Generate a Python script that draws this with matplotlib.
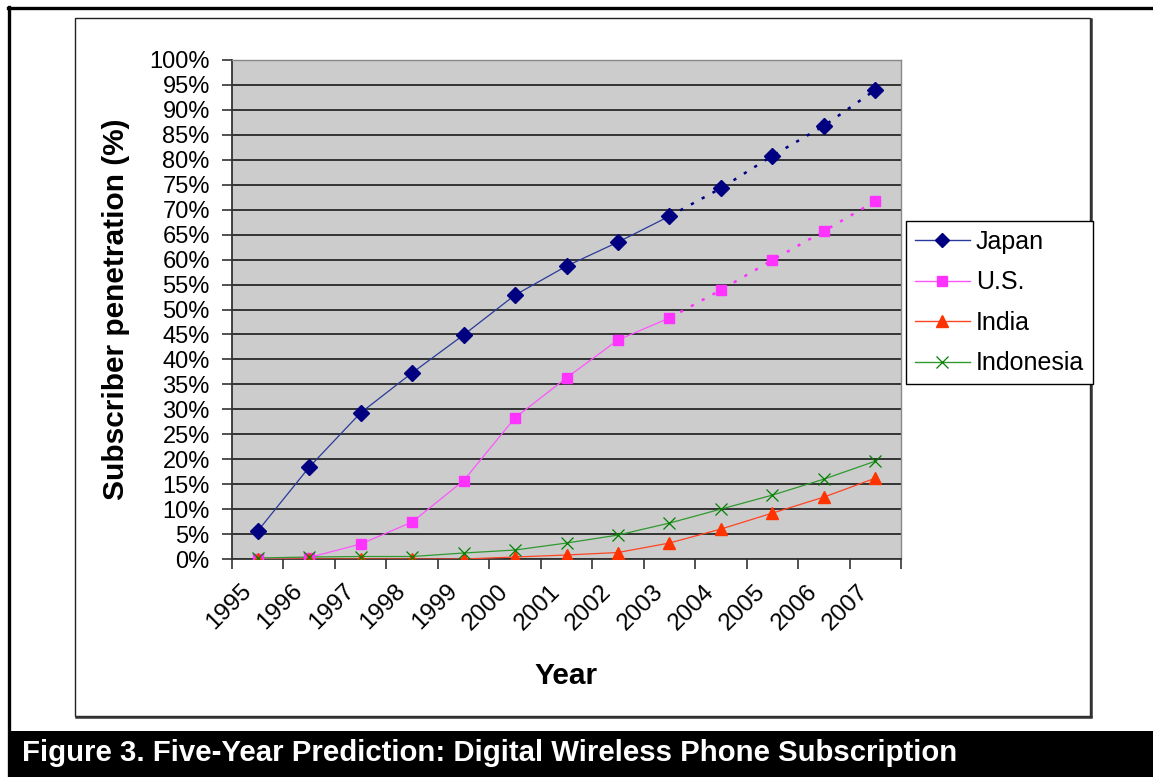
import numpy as np
import matplotlib
matplotlib.use("Agg")
import matplotlib.pyplot as plt
from matplotlib.patches import Rectangle
from matplotlib.lines import Line2D
from matplotlib.transforms import ScaledTranslation

plt.rcParams['font.family'] = ['Liberation Sans', 'DejaVu Sans']

# Data (percent)
years = ['1995', '1996', '1997', '1998', '1999', '2000', '2001',
         '2002', '2003', '2004', '2005', '2006', '2007']
japan = [5.6, 18.4, 29.3, 37.3, 44.9, 52.9, 58.7, 63.5, 68.7, 74.3, 80.8, 86.8, 94.0]
us = [0.1, 0.3, 3.0, 7.4, 15.7, 28.3, 36.3, 43.9, 48.3, 53.9, 59.9, 65.7, 71.7]
india = [0.0, 0.0, 0.0, 0.0, 0.0, 0.4, 0.8, 1.3, 3.2, 6.0, 9.2, 12.4, 16.2]
indonesia = [0.2, 0.4, 0.5, 0.5, 1.2, 1.8, 3.2, 4.8, 7.2, 10.0, 12.8, 16.0, 19.6]
forecast_start = 8  # 2003 onward is the prediction (dotted)

W, H = 1153, 777


def fx(px):
    return px / W


def fy(py):
    return 1 - py / H


fig = plt.figure(figsize=(W / 100, H / 100), dpi=100)

# ====== frames and caption bar ======
# outer frame: only top and left edges show in the crop
fig.add_artist(Line2D([fx(8), 1], [fy(7.5), fy(7.5)], transform=fig.transFigure,
                      color='black', lw=2.4))
fig.add_artist(Line2D([fx(8.5), fx(8.5)], [0, fy(7)], transform=fig.transFigure,
                      color='black', lw=2.4))
fig.add_artist(Rectangle((fx(75), fy(716)), fx(1090) - fx(75), (716 - 18) / H,
                         transform=fig.transFigure, fill=False, ec='#222222', lw=1.0))
fig.add_artist(Line2D([fx(1091), fx(1091)], [fy(716), fy(19)], transform=fig.transFigure,
                      color='#333333', lw=1.8))
fig.add_artist(Line2D([fx(76), fx(1091)], [fy(717), fy(717)], transform=fig.transFigure,
                      color='#333333', lw=1.8))
fig.add_artist(Rectangle((fx(8), 0), 1 - fx(8), (777 - 731) / H, transform=fig.transFigure,
                         fc='black', ec='none'))
fig.text(fx(22), fy(753), 'Figure 3. Five-Year Prediction: Digital Wireless Phone Subscription',
         color='white', fontsize=21.2, fontweight='bold', ha='left', va='center')

# ====== plot area ======
ax = fig.add_axes([fx(232), fy(559), fx(901) - fx(232), (559 - 60) / H])
ax.set_facecolor('#cccccc')
x = np.arange(len(years))

ax.set_ylim(0, 100)
ax.set_xlim(-0.5, len(years) - 0.5)
ax.set_yticks(np.arange(0, 101, 5))
ax.set_yticklabels([f'{v}%' for v in range(0, 101, 5)], fontsize=17)
ax.yaxis.grid(True, color='#333333', lw=1.4)
ax.set_axisbelow(True)
ax.tick_params(axis='y', length=7, width=1.2, color='#333333', pad=9)

ax.set_xticks(np.arange(-0.5, len(years), 1.0))
ax.set_xticklabels([])
ax.tick_params(axis='x', length=7, width=1.2, color='#333333')
off = ScaledTranslation(-10 / 100, -29 / 100, fig.dpi_scale_trans)
for i, yr in enumerate(years):
    ax.text(i, 0, yr, transform=ax.get_xaxis_transform() + off, rotation=45,
            rotation_mode='anchor', ha='right', va='center', fontsize=17.5)

for side in ['left', 'bottom']:
    ax.spines[side].set_color('#333333')
    ax.spines[side].set_linewidth(1.3)
for side in ['top', 'right']:
    ax.spines[side].set_color('#888888')
    ax.spines[side].set_linewidth(1.0)

# ====== series ======
series = [
    ('Japan', japan, '#2a3a9a', '#000080', 'D', 8, True),
    ('U.S.', us, '#ff55ff', '#ff33ff', 's', 7.5, True),
    ('India', india, '#ff4422', '#ff3300', '^', 9, False),
    ('Indonesia', indonesia, '#2f9a2f', '#008000', 'x', 8.5, False),
]

handles = []
for name, vals, lc, mc, mk, ms, dotted in series:
    if dotted:
        ax.plot(x[:forecast_start + 1], vals[:forecast_start + 1], color=lc, lw=0.9, zorder=3)
        ax.plot(x[forecast_start:], vals[forecast_start:], color=mc, lw=1.8,
                dashes=(1.3, 3.6), zorder=3)
    else:
        ax.plot(x, vals, color=lc, lw=0.9, zorder=3)
    if mk == 'x':
        ax.plot(x, vals, ls='none', marker=mk, ms=ms, mew=0.9, color=mc, zorder=5)
    else:
        ax.plot(x, vals, ls='none', marker=mk, ms=ms, color=mc, mec=mc, zorder=4)
    handles.append(Line2D([], [], color=lc, lw=1.0, marker=mk, ms=ms * 0.95, mfc=mc, mec=mc,
                          mew=0.9 if mk == 'x' else 1.0))

leg = fig.legend(handles, [s[0] for s in series], loc='upper left',
                 bbox_to_anchor=(fx(906), fy(221)), fontsize=18, frameon=True,
                 fancybox=False, edgecolor='black', framealpha=1, borderaxespad=0,
                 handlelength=2.2, handletextpad=0.25, labelspacing=0.66, borderpad=0.35)
leg.get_frame().set_linewidth(1.0)

# ====== axis titles ======
ax.set_ylabel('Subscriber penetration (%)', fontsize=21.5, fontweight='bold', labelpad=14)
fig.text((fx(232) + fx(901)) / 2, fy(676), 'Year', fontsize=21.5, fontweight='bold',
         ha='center', va='center')

fig.savefig('out.png', dpi=100)
